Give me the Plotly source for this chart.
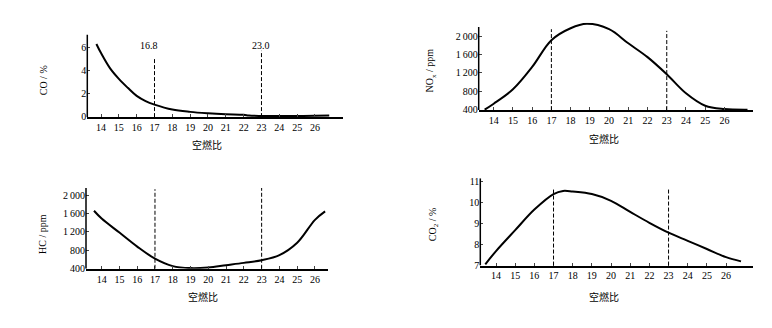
import plotly.graph_objects as go

# Air-fuel ratio samples
co_x = [13.74, 14, 14.5, 15, 15.5, 16, 16.5, 17, 18, 19, 20, 21, 22, 22.3, 23, 24, 25, 26, 26.8]
co_y = [6.29, 5.5, 4.2, 3.27, 2.5, 1.8, 1.35, 1.05, 0.62, 0.42, 0.3, 0.22, 0.17, 0.1, 0.07, 0.07, 0.07, 0.08, 0.1]

nox_x = [13.53, 14, 15, 16, 17, 18, 18.84, 20, 21, 22, 23, 24, 25, 26, 27.2]
nox_y = [400, 529, 843, 1329, 1910, 2170, 2266, 2150, 1843, 1543, 1171, 757, 486, 414, 400]

hc_x = [13.57, 14, 15, 16, 17, 18, 19, 20, 21, 22, 23, 24, 25, 26, 26.57]
hc_y = [1659, 1488, 1182, 876, 613, 450, 407, 421, 471, 521, 578, 690, 960, 1460, 1644]

co2_x = [13.44, 14, 15, 16, 17, 17.5, 18, 19, 20, 21, 22, 23, 24, 25, 26, 26.78]
co2_y = [7.05, 7.68, 8.68, 9.66, 10.4, 10.55, 10.52, 10.4, 10.08, 9.55, 9.03, 8.56, 8.17, 7.78, 7.39, 7.19]

marks = [17, 23]
co_mark_top = [5.15, 5.7]
nox_mark_top = [2150, 2114]
hc_mark_top = [2128, 2156]
co2_mark_top = [10.7, 10.67]
co_mark_labels = ["16.8", "23.0"]
co_label_x = [16.7, 23.0]

x_ticks = list(range(14, 27))
ppm_ticks = [400, 800, 1200, 1600, 2000]
ppm_labels = ["400", "800", "1\u2009200", "1\u2009600", "2\u2009000"]
co_ticks = [0, 2, 4, 6]
co2_ticks = [7, 8, 9, 10, 11]

W, H = 772, 328
def dx(a, b):
    return [a / W, b / W]
def dy(top, bot):
    return [1 - bot / H, 1 - top / H]

panels = [
    dict(x=co_x, y=co_y, dom_x=dx(87.3, 343.3), dom_y=dy(33.3, 117.6), xr=[13.23, 27.59], yr=[-0.03, 7.1], ytop=7.1,
         yt=co_ticks, ytl=[str(v) for v in co_ticks], tops=co_mark_top, ytitle="CO / %", tx=43, ty=80),
    dict(x=nox_x, y=nox_y, dom_x=dx(478.7, 752.7), dom_y=dy(21.2, 110.4), xr=[13.22, 27.47], yr=[392, 2290], ytop=2200,
         yt=ppm_ticks, ytl=ppm_labels, tops=nox_mark_top, ytitle="NO<sub>x</sub> / ppm", tx=431, ty=70),
    dict(x=hc_x, y=hc_y, dom_x=dx(86, 328.3), dom_y=dy(190, 272.6), xr=[13.12, 26.75], yr=[392, 2156], ytop=2156,
         yt=ppm_ticks, ytl=ppm_labels, tops=hc_mark_top, ytitle="HC / ppm", tx=43, ty=237),
    dict(x=co2_x, y=co2_y, dom_x=dx(480.3, 752.7), dom_y=dy(180, 269.3), xr=[13.18, 27.39], yr=[6.99, 11.16], ytop=11.16,
         yt=co2_ticks, ytl=[str(v) for v in co2_ticks], tops=co2_mark_top, ytitle="CO<sub>2</sub> / %", tx=433, ty=227),
]

title_pos = [(207, 146), (604, 139), (203, 301), (604, 301)]

fig = go.Figure()
font = dict(family="Liberation Serif", size=10, color="black")
layout = dict(width=W, height=H, margin=dict(l=0, r=0, t=0, b=0), paper_bgcolor="white",
              plot_bgcolor="white", showlegend=False, font=font)
shapes = []
annotations = []
for i, p in enumerate(panels):
    n = "" if i == 0 else str(i + 1)
    xa, ya = "x" + n, "y" + n
    fig.add_trace(go.Scatter(x=p["x"], y=p["y"], mode="lines",
                             line=dict(color="black", width=2, shape="spline", smoothing=1.0),
                             xaxis=xa, yaxis=ya, hoverinfo="skip"))
    layout["xaxis" + n] = dict(domain=p["dom_x"], range=p["xr"], anchor=ya, tickvals=x_ticks, ticks="inside", ticklen=3,
                               showline=True, linecolor="black", linewidth=1.5, showgrid=False, zeroline=False,
                               tickfont=font, fixedrange=True)
    layout["yaxis" + n] = dict(domain=p["dom_y"], range=p["yr"], anchor=xa, tickvals=p["yt"], ticktext=p["ytl"],
                               ticks="inside", ticklen=3, showline=False, showgrid=False, zeroline=False,
                               tickfont=font, fixedrange=True)
    # y axis line (ends below the curve's peak in the NOx panel)
    shapes.append(dict(type="line", xref=xa + " domain", yref=ya, x0=0, x1=0, y0=p["yr"][0], y1=p["ytop"],
                       line=dict(color="black", width=1.5)))
    for m, top in zip(marks, p["tops"]):
        shapes.append(dict(type="line", xref=xa, yref=ya, x0=m, x1=m, y0=p["yr"][0], y1=top,
                           line=dict(color="black", width=1, dash="4px,2px")))
    annotations.append(dict(text=p["ytitle"], x=p["tx"] / W, y=1 - p["ty"] / H, xref="paper", yref="paper",
                            xanchor="center", yanchor="middle", showarrow=False, textangle=-90,
                            font=dict(family="Liberation Serif", size=10, color="black")))
    tx, ty = title_pos[i]
    annotations.append(dict(text="空燃比", x=tx / W, y=1 - ty / H, xref="paper", yref="paper", showarrow=False,
                            xanchor="center", yanchor="middle",
                            font=dict(family="Noto Sans CJK SC", size=10, color="black")))

for lx, lab in zip(co_label_x, co_mark_labels):
    annotations.append(dict(text=lab, x=lx, y=6.15, xref="x", yref="y", showarrow=False,
                            xanchor="center", yanchor="middle",
                            font=dict(family="Liberation Serif", size=10, color="black")))

layout["shapes"] = shapes
layout["annotations"] = annotations
fig.update_layout(**layout)
fig.write_html("out.html")
